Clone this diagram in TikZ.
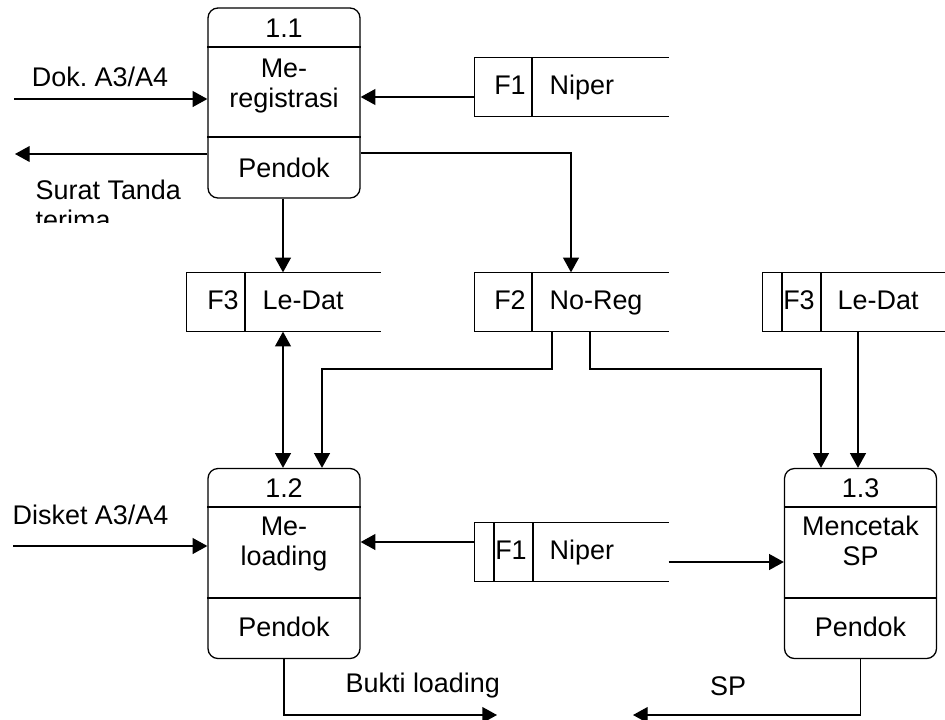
\documentclass[tikz,border=0pt]{standalone}
\usepackage{fontspec}
\setmainfont{Liberation Sans}
\usetikzlibrary{arrows.meta}
\frenchspacing

\begin{document}
\begin{tikzpicture}[x=0.03cm,y=-0.03cm,line width=1.1pt,
   font=\fontsize{23}{26}\selectfont,
   flow/.style={-{Triangle[length=12.5pt,width=13.5pt]}},
   dflow/.style={{Triangle[length=12.5pt,width=13.5pt]}-{Triangle[length=12.5pt,width=13.5pt]}},
   proc/.style={draw,rounded corners=0.3cm,minimum width=4.56cm,minimum height=5.7cm,inner sep=0},
   store/.style={minimum width=5.79cm,minimum height=1.74cm,inner sep=0},
   lbl/.style={inner sep=0,align=center}]
   \useasboundingbox (0,0) rectangle (945,719);

   % processes
   \node[proc] (p11) at (284,103) {};
   \node[proc] (p12) at (284,563.5) {};
   \node[proc] (p13) at (860.5,563.5) {};
   \draw (p11.west |- 0,47) -- (p11.east |- 0,47);
   \draw (p11.west |- 0,137) -- (p11.east |- 0,137);
   \draw (p12.west |- 0,507) -- (p12.east |- 0,507);
   \draw (p12.west |- 0,598) -- (p12.east |- 0,598);
   \draw (p13.west |- 0,507) -- (p13.east |- 0,507);
   \draw (p13.west |- 0,598) -- (p13.east |- 0,598);
   \node[lbl] (p11id) at (284,28) {1.1};
   \node[lbl] (p11nm) at (284,86) {Me-\\registrasi};
   \node[lbl] (p11pd) at (284,168) {Pendok};
   \node[lbl] (p12id) at (284,488) {1.2};
   \node[lbl] (p12nm) at (284,544) {Me-\\loading};
   \node[lbl] (p12pd) at (284,627) {Pendok};
   \node[lbl] (p13id) at (860.5,488) {1.3};
   \node[lbl] (p13nm) at (860.5,541) {Mencetak\\SP};
   \node[lbl] (p13pd) at (860.5,627) {Pendok};

   % data stores
   \node[store] (f1a) at (571.5,87) {};
   \node[store] (f2) at (571.5,302) {};
   \node[store] (f3a) at (283.5,302) {};
   \node[store,minimum width=5.46cm] (f3b) at (854,302) {};
   \node[store] (f1b) at (571.5,552) {};
   \foreach \s in {f1a,f2,f3a,f3b,f1b}
      \draw (\s.north east) -- (\s.north west) -- (\s.south west) -- (\s.south east);
   \draw (f1a.north -| 532,0) -- (f1a.south -| 532,0);
   \draw (f2.north -| 532,0) -- (f2.south -| 532,0);
   \draw (f3a.north -| 245,0) -- (f3a.south -| 245,0);
   \draw (f3b.north -| 782,0) -- (f3b.south -| 782,0);
   \draw (f3b.north -| 821,0) -- (f3b.south -| 821,0);
   \draw (f1b.north -| 494,0) -- (f1b.south -| 494,0);
   \draw (f1b.north -| 533,0) -- (f1b.south -| 533,0);
   \node[lbl,anchor=base] (f1aid) at (510,94) {F1};
   \node[lbl,anchor=base west] (f1anm) at (549,94) {Niper};
   \node[lbl,anchor=base] (f2id) at (510,309) {F2};
   \node[lbl,anchor=base west] (f2nm) at (549,309) {No-Reg};
   \node[lbl,anchor=base] (f3aid) at (223,309) {F3};
   \node[lbl,anchor=base west] (f3anm) at (262,309) {Le-Dat};
   \node[lbl,anchor=base] (f3bid) at (799,309) {F3};
   \node[lbl,anchor=base west] (f3bnm) at (837,309) {Le-Dat};
   \node[lbl,anchor=base] (f1bid) at (511,559) {F1};
   \node[lbl,anchor=base west] (f1bnm) at (549,559) {Niper};

   % flows
   \coordinate (dokin) at (14,99);
   \coordinate (suratout) at (15,154);
   \coordinate (disketin) at (13,546);
   \coordinate (bukti) at (497,715);
   \coordinate (spout) at (633,715);
   \coordinate (k1) at (322,369);
   \coordinate (k2) at (821,369);
   \draw[flow] (dokin) -- (dokin -| p11.west);
   \draw[flow] (suratout -| p11.west) -- (suratout);
   \draw[flow] (f1a.west |- 0,97) -- (p11.east |- 0,97);
   \draw[flow] (p11.east |- 0,153) -| (f2.north -| 571,0);
   \draw[flow] (p11.south -| 283,0) -- (f3a.north -| 283,0);
   \draw[dflow] (f3a.south -| 283,0) -- (p12.north -| 283,0);
   \draw[flow] (f2.south -| 552,0) |- (k1) -- (k1 |- p12.north);
   \draw[flow] (f2.south -| 590,0) |- (k2) -- (k2 |- p13.north);
   \draw[flow] (f3b.south -| 858,0) -- (p13.north -| 858,0);
   \draw[flow] (disketin) -- (disketin -| p12.west);
   \draw[flow] (f1b.west |- 0,542) -- (p12.east |- 0,542);
   \draw[flow] (f1b.east |- 0,562) -- (p13.west |- 0,562);
   \draw[flow] (p12.south) |- (bukti);
   \draw[flow] (p13.south) |- (spout);

   % flow labels
   \node[lbl] (dok) at (100,77) {Dok. A3/A4};
   \begin{scope}
      \clip (0,170) rectangle (200,222);
      \node[lbl,anchor=north west,align=left] (surat) at (35,179) {Surat Tanda\\terima};
   \end{scope}
   \node[lbl,anchor=west] (disket) at (12,515) {Disket A3/A4};
   \node[lbl,anchor=west] (buktilbl) at (345,686) {Bukti loading};
   \node[lbl] (splbl) at (728,686) {SP};
\end{tikzpicture}
\end{document}
